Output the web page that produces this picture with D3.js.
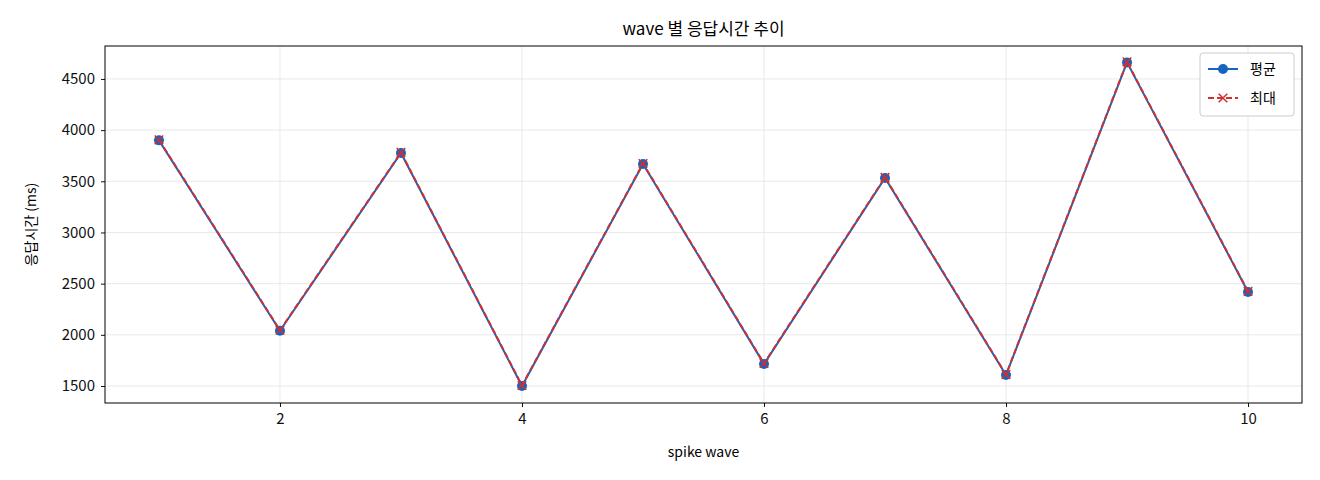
<!DOCTYPE html>
<html><head><meta charset="utf-8">
<script src="https://cdn.jsdelivr.net/npm/d3@7"></script>
<style>body{margin:0;background:#fff}text{font-family:"Noto Sans CJK KR","DejaVu Sans",sans-serif}</style>
</head><body>
<script>
// data
var waves = [1, 2, 3, 4, 5, 6, 7, 8, 9, 10];
var avgMs = [3900, 2040, 3777, 1500, 3669, 1715, 3533, 1607, 4662, 2419];
var maxMs = [3905, 2045, 3782, 1505, 3674, 1720, 3538, 1612, 4667, 2424];
var xTicks = [2, 4, 6, 8, 10];
var yTicks = [1500, 2000, 2500, 3000, 3500, 4000, 4500];

var W = 1320, H = 480;
var margin = {top: 46, right: 18, bottom: 77, left: 105};
var width = W - margin.left - margin.right,
    height = H - margin.top - margin.bottom;

var svg = d3.select('body').append('svg').attr('width', W).attr('height', H);
var g = svg.append('g').attr('transform', 'translate(' + margin.left + ',' + margin.top + ')');

var x = d3.scaleLinear().domain([0.554, 10.446]).range([0, width]);
var y = d3.scaleLinear().domain([1334, 4822]).range([height, 0]);

// grid
g.selectAll('.gx').data(xTicks).enter().append('line')
  .attr('x1', d => x(d)).attr('x2', d => x(d)).attr('y1', 0).attr('y2', height)
  .attr('stroke', '#e3e3e3').attr('stroke-width', 0.8);
g.selectAll('.gy').data(yTicks).enter().append('line')
  .attr('y1', d => y(d)).attr('y2', d => y(d)).attr('x1', 0).attr('x2', width)
  .attr('stroke', '#e3e3e3').attr('stroke-width', 0.8);

var xa = g.append('g').attr('transform', 'translate(0,' + height + ')')
  .call(d3.axisBottom(x).tickValues(xTicks).tickFormat(d3.format('d')).tickSize(4).tickPadding(6));
var ya = g.append('g').call(d3.axisLeft(y).tickValues(yTicks).tickFormat(d3.format('d')).tickSize(4).tickPadding(6));
[xa, ya].forEach(function(a) {
  a.select('.domain').remove();
  a.selectAll('text').attr('font-size', 15).attr('fill', '#111');
  a.selectAll('line').attr('stroke', '#111');
});
g.append('rect').attr('width', width).attr('height', height).attr('fill', 'none').attr('stroke', '#000').attr('stroke-width', 1);

var line = d3.line().x((d, i) => x(waves[i])).y(d => y(d));
g.append('path').datum(avgMs).attr('d', line).attr('fill', 'none').attr('stroke', '#1565c0').attr('stroke-width', 2);
g.selectAll('.pt').data(avgMs).enter().append('circle')
  .attr('cx', (d, i) => x(waves[i])).attr('cy', d => y(d)).attr('r', 5).attr('fill', '#1565c0');
g.append('path').datum(maxMs).attr('d', line).attr('fill', 'none').attr('stroke', '#d32f2f').attr('stroke-width', 2).attr('stroke-dasharray', '6,3');
var cross = d3.symbol().type(d3.symbolX).size(50);
g.selectAll('.mx').data(maxMs).enter().append('path')
  .attr('d', cross).attr('transform', (d, i) => 'translate(' + x(waves[i]) + ',' + y(d) + ')')
  .attr('fill', 'none').attr('stroke', '#d32f2f').attr('stroke-width', 1.5);

// title and labels
svg.append('text').attr('x', margin.left + width / 2).attr('y', 35).attr('text-anchor', 'middle').attr('font-size', 17).text('wave 별 응답시간 추이');
svg.append('text').attr('x', margin.left + width / 2).attr('y', 457).attr('text-anchor', 'middle').attr('font-size', 14).text('spike wave');
svg.append('text').attr('transform', 'translate(36,' + (margin.top + height / 2) + ') rotate(-90)').attr('text-anchor', 'middle').attr('font-size', 14).text('응답시간 (ms)');

// legend
var lg = svg.append('g').attr('transform', 'translate(1200,53)');
lg.append('rect').attr('width', 94).attr('height', 63).attr('rx', 3).attr('fill', '#fff').attr('stroke', '#ccc');
lg.append('line').attr('x1', 8).attr('x2', 38).attr('y1', 16).attr('y2', 16).attr('stroke', '#1565c0').attr('stroke-width', 2);
lg.append('circle').attr('cx', 23).attr('cy', 16).attr('r', 5).attr('fill', '#1565c0');
lg.append('text').attr('x', 50).attr('y', 21).attr('font-size', 14).text('평균');
lg.append('line').attr('x1', 8).attr('x2', 38).attr('y1', 45).attr('y2', 45).attr('stroke', '#d32f2f').attr('stroke-width', 2).attr('stroke-dasharray', '6,3');
lg.append('path').attr('d', cross).attr('transform', 'translate(23,45)').attr('fill', 'none').attr('stroke', '#d32f2f').attr('stroke-width', 1.5);
lg.append('text').attr('x', 50).attr('y', 50).attr('font-size', 14).text('최대');
</script>
</body></html>
